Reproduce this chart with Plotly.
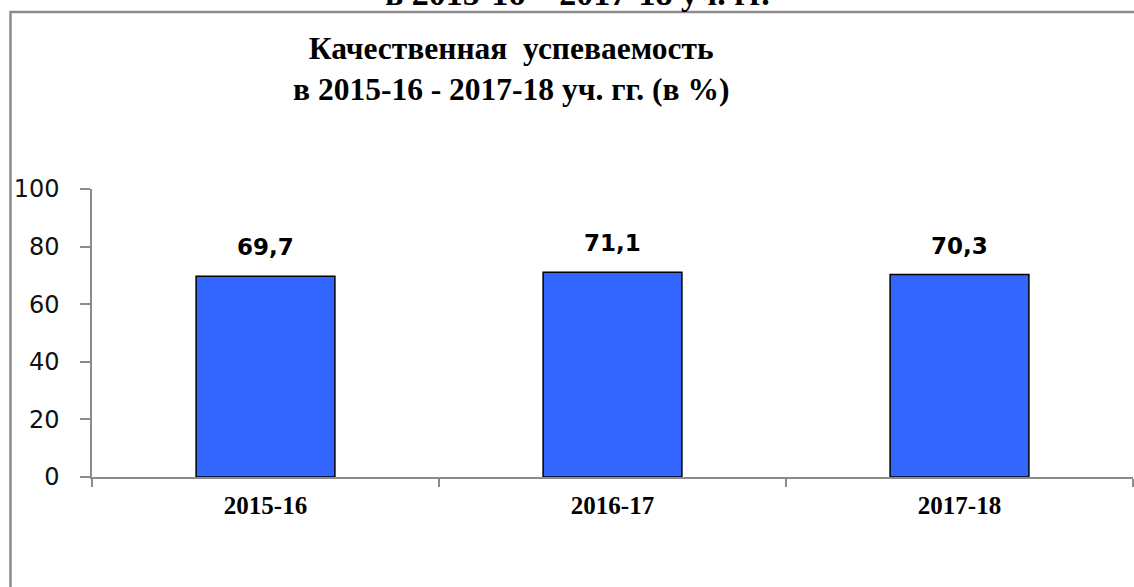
import plotly.graph_objects as go

categories = ["2015-16", "2016-17", "2017-18"]
values = [69.7, 71.1, 70.3]
y_ticks = [0, 20, 40, 60, 80, 100]
title_text = "Качественная  успеваемость<br>в 2015-16 - 2017-18 уч. гг. (в %)"
top_cut_text = "в 2015-16 – 2017-18 уч. гг."

# plot area geometry in page pixels
L, R, T, B = 92, 1133, 189, 477
W, H = 1134, 587


def px_x(px):
    return (px - L) / (R - L)


def px_y(py):
    return (B - py) / (B - T)


fig = go.Figure()
fig.add_trace(go.Bar(
    x=categories, y=values,
    marker=dict(color="#3366FF", line=dict(color="#000000", width=1.5)),
    width=0.4,
    hoverinfo="skip",
))

for c, v in zip(categories, values):
    fig.add_annotation(
        x=c, y=v, xref="x", yref="y",
        text="<b>" + f"{v:.1f}".replace(".", ",") + "</b>",
        showarrow=False, yanchor="bottom", yshift=14,
        font=dict(family="DejaVu Sans", size=23, color="#000000"),
    )

# title
fig.add_annotation(
    x=px_x(511), xref="paper", y=px_y(69), yref="paper",
    text="<b>" + title_text + "</b>", showarrow=False, yanchor="middle",
    font=dict(family="Liberation Serif", size=31.5, color="#000000"),
    align="center",
)
# top cut-off text
fig.add_annotation(
    x=px_x(577), xref="paper", y=px_y(14), yref="paper",
    text="<b>" + top_cut_text + "</b>", showarrow=False, yanchor="bottom",
    font=dict(family="Liberation Serif", size=34, color="#000000"),
)

# outer border (chart frame)
fig.add_shape(
    type="rect", xref="paper", yref="paper",
    x0=px_x(10.5), x1=px_x(1160),
    y0=px_y(640), y1=px_y(12),
    line=dict(color="#8c8c8c", width=2.5), fillcolor="rgba(0,0,0,0)", layer="below",
)

fig.update_layout(
    width=W, height=H,
    margin=dict(l=L, r=W - R, t=T, b=H - B),
    paper_bgcolor="#ffffff", plot_bgcolor="#ffffff",
    showlegend=False,
    separators=", ",
)
fig.update_xaxes(
    showgrid=False, showline=True, linecolor="#8c8c8c", linewidth=1.5,
    ticks="outside", ticklen=8, tickcolor="#8c8c8c", tickwidth=1.5,
    tickson="boundaries",
    tickfont=dict(family="Liberation Serif", size=25, color="#000000"),
    tickprefix="<b>", ticksuffix="</b>",
    ticklabelstandoff=5,
)
fig.update_yaxes(
    range=[0, 100], tickvals=y_ticks, showgrid=False, zeroline=False,
    showline=True, linecolor="#8c8c8c", linewidth=1.5,
    ticks="outside", ticklen=10, tickcolor="#8c8c8c", tickwidth=1.5,
    tickfont=dict(family="DejaVu Sans", size=24, color="#111111"),
    ticklabelstandoff=16,
)

fig.write_html(
    "out.html",
    config={"displayModeBar": False},
    post_script="document.body.style.margin='0';document.body.style.overflow='hidden';",
)
